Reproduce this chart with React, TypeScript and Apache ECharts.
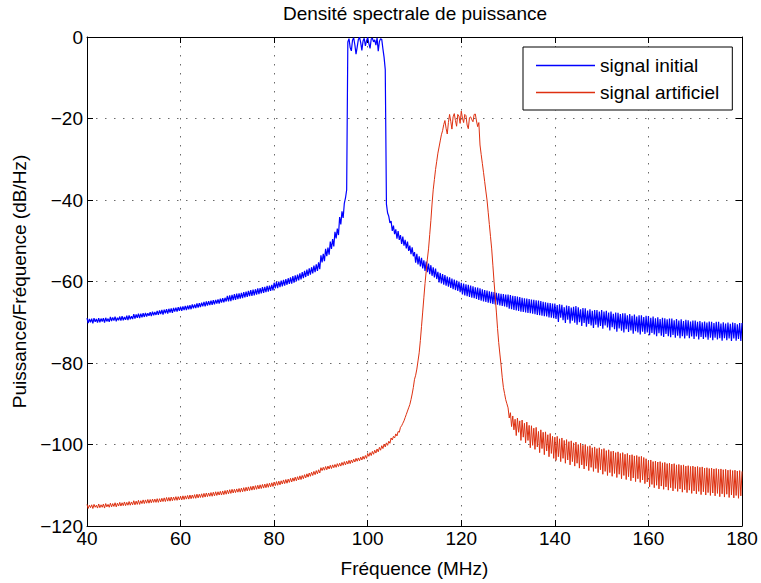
import React, { useEffect, useRef } from "react";
import * as echarts from "echarts";

// Frequency grid of the PSD estimate (MHz)
const FREQ_START = 40;
const FREQ_STEP = 0.25;

const X_TICKS = [40, 60, 80, 100, 120, 140, 160, 180];
const Y_TICKS = [-120, -100, -80, -60, -40, -20, 0];

const SERIES_NAMES = ["signal initial", "signal artificiel"];

// signal initial, dB/Hz, 40 .. 180 MHz, step 0.25 (one row = 5 MHz)
const signalInitial = [
  -69.0, -70.2, -69.2, -70.0, -69.1, -70.3, -69.0, -69.9, -69.2, -70.1, -69.0, -70.0, -69.1, -69.8, -69.0, -70.1, -68.9, -69.8, -69.1, -69.9,
  -68.7, -69.7, -68.8, -69.6, -68.6, -69.8, -68.9, -69.5, -68.6, -69.6, -68.5, -69.5, -68.7, -69.4, -68.4, -69.5, -68.3, -69.3, -68.5, -69.2,
  -68.0, -69.1, -68.1, -68.9, -67.9, -69.0, -67.9, -68.8, -67.8, -68.7, -67.7, -68.6, -67.8, -68.4, -67.5, -68.5, -67.4, -68.3, -67.5, -68.2,
  -67.2, -68.2, -67.1, -68.0, -67.0, -68.1, -66.9, -67.8, -66.8, -67.9, -66.7, -67.6, -66.6, -67.7, -66.5, -67.4, -66.4, -67.4, -66.3, -67.2,
  -66.2, -67.2, -66.1, -67.0, -66.0, -67.0, -65.9, -66.8, -65.8, -66.8, -65.6, -66.6, -65.6, -66.5, -65.4, -66.4, -65.3, -66.3, -65.2, -66.1,
  -65.0, -66.1, -64.9, -65.9, -64.8, -65.8, -64.7, -65.7, -64.6, -65.6, -64.5, -65.4, -64.4, -65.4, -64.2, -65.2, -64.1, -65.1, -64.0, -64.9,
  -63.5, -64.9, -63.4, -64.8, -63.3, -64.6, -63.1, -64.5, -63.0, -64.3, -62.9, -64.2, -62.8, -64.1, -62.6, -63.9, -62.5, -63.8, -62.3, -63.6,
  -62.1, -63.5, -62.0, -63.4, -61.9, -63.2, -61.7, -63.1, -61.6, -62.9, -61.4, -62.8, -61.3, -62.6, -61.1, -62.5, -61.0, -62.3, -60.8, -62.2,
  -60.3, -61.7, -60.1, -61.6, -60.0, -61.4, -59.8, -61.2, -59.6, -61.0, -59.4, -60.8, -59.2, -60.6, -59.0, -60.5, -58.7, -60.3, -58.5, -60.0,
  -58.3, -59.7, -58.0, -59.5, -57.7, -59.2, -57.4, -58.9, -57.1, -58.6, -56.8, -58.3, -56.5, -58.0, -56.1, -57.7, -55.8, -57.4, -55.3, -57.0,
  -53.6, -55.3, -53.2, -55.0, -52.0, -53.8, -51.7, -53.4, -50.2, -52.0, -49.6, -51.4, -47.8, -49.4, -47.0, -48.6, -44.2, -46.0, -42.8, -44.4,
  -40.8, -39.5, -37.5, -1.2, -0.4, -2.6, -3.4, -0.8, -0.2, -1.9, -4.2, -2.5, -0.6, -0.1, -1.4, -3.3, -1.0, -0.3, -2.2, -0.9,
  -0.1, -1.6, -2.8, -0.5, -0.3, -1.2, -0.7, -2.0, -0.2, -3.5, -1.1, -0.4, -0.6, -2.9, -5.0, -8.0, -41.0, -43.2, -44.0, -45.6,
  -45.2, -47.6, -46.3, -48.4, -47.2, -49.5, -47.6, -49.8, -48.6, -50.8, -49.0, -51.2, -49.8, -51.9, -50.2, -52.5, -51.2, -53.3, -51.6, -53.8,
  -52.8, -55.4, -53.2, -55.8, -53.8, -56.3, -54.2, -56.8, -54.8, -57.4, -55.1, -57.7, -55.6, -58.2, -56.0, -58.6, -56.5, -59.0, -56.8, -59.4,
  -57.6, -60.2, -57.9, -60.5, -58.2, -60.8, -58.4, -61.0, -58.8, -61.3, -59.0, -61.6, -59.3, -61.9, -59.5, -62.1, -59.8, -62.3, -60.0, -62.6,
  -60.3, -63.2, -60.5, -63.4, -60.7, -63.6, -60.8, -63.8, -61.0, -64.0, -61.2, -64.1, -61.4, -64.3, -61.5, -64.5, -61.7, -64.7, -61.9, -64.9,
  -62.1, -65.0, -62.2, -65.2, -62.4, -65.3, -62.5, -65.5, -62.6, -65.6, -62.8, -65.7, -62.9, -65.9, -63.0, -66.0, -63.1, -66.1, -63.2, -66.3,
  -63.2, -66.7, -63.3, -66.8, -63.5, -67.0, -63.6, -67.1, -63.7, -67.2, -63.8, -67.4, -64.0, -67.5, -64.1, -67.6, -64.2, -67.7, -64.3, -67.8,
  -64.4, -67.9, -64.5, -68.0, -64.6, -68.2, -64.7, -68.3, -64.8, -68.4, -65.0, -68.5, -65.1, -68.6, -65.2, -68.8, -65.3, -68.9, -65.4, -69.0,
  -65.4, -69.2, -65.8, -69.9, -65.6, -68.9, -65.7, -69.5, -66.3, -70.2, -65.9, -69.4, -66.0, -70.3, -66.4, -69.6, -66.2, -70.1, -66.0, -70.6,
  -66.3, -70.0, -66.8, -70.9, -66.5, -70.2, -66.6, -71.1, -67.1, -70.4, -66.8, -70.8, -67.2, -71.4, -67.0, -70.6, -67.0, -71.3, -67.4, -70.9,
  -67.0, -71.6, -67.4, -70.8, -67.2, -71.3, -67.6, -72.0, -67.4, -71.2, -67.9, -71.7, -67.6, -72.3, -67.7, -71.5, -68.0, -72.1, -67.8, -72.5,
  -67.8, -71.7, -68.3, -72.4, -68.0, -72.0, -68.4, -72.8, -68.1, -72.2, -68.6, -72.5, -68.3, -73.0, -68.3, -72.3, -68.7, -72.9, -68.4, -72.5,
  -68.5, -73.2, -68.9, -72.6, -68.6, -73.0, -69.0, -73.4, -68.8, -72.7, -69.2, -73.3, -68.9, -73.6, -69.0, -72.9, -69.3, -73.4, -69.1, -73.7,
  -69.1, -73.1, -69.5, -73.8, -69.2, -73.3, -69.6, -73.9, -69.3, -73.4, -69.7, -74.0, -69.4, -73.3, -69.5, -73.9, -69.8, -73.5, -69.6, -74.1,
  -69.6, -73.5, -69.9, -74.2, -69.7, -73.6, -70.0, -74.1, -69.8, -73.7, -70.1, -74.3, -69.8, -73.8, -69.9, -74.4, -70.2, -73.8, -69.9, -74.2,
  -69.9, -73.9, -70.3, -74.5, -70.0, -73.9, -70.3, -74.4, -70.1, -74.0, -70.4, -74.6, -70.1, -74.0, -70.2, -74.5, -70.5, -74.1, -70.2, -74.6,
  -70.2,
];

// signal artificiel, dB/Hz, 40 .. 180 MHz, step 0.25 (one row = 5 MHz)
const signalArtificiel = [
  -114.7, -115.7, -114.9, -115.5, -114.8, -115.7, -114.7, -115.4, -114.9, -115.6, -114.6, -115.5, -114.8, -115.4, -114.6, -115.6, -114.5, -115.3, -114.7, -115.4,
  -114.4, -115.3, -114.5, -115.2, -114.3, -115.3, -114.4, -115.1, -114.2, -115.1, -114.3, -115.0, -114.1, -115.0, -114.2, -114.9, -114.0, -114.9, -114.1, -114.8,
  -113.8, -114.8, -113.9, -114.7, -113.7, -114.7, -113.8, -114.5, -113.6, -114.5, -113.6, -114.4, -113.5, -114.4, -113.5, -114.3, -113.4, -114.2, -113.4, -114.2,
  -113.3, -114.2, -113.3, -114.1, -113.2, -114.0, -113.1, -114.0, -113.0, -113.9, -113.0, -113.9, -112.9, -113.8, -112.9, -113.7, -112.8, -113.7, -112.8, -113.6,
  -112.7, -113.6, -112.6, -113.5, -112.6, -113.4, -112.5, -113.4, -112.4, -113.3, -112.4, -113.2, -112.3, -113.2, -112.2, -113.1, -112.2, -113.0, -112.1, -113.0,
  -112.0, -112.9, -111.9, -112.8, -111.9, -112.7, -111.8, -112.7, -111.7, -112.6, -111.6, -112.5, -111.6, -112.4, -111.5, -112.4, -111.4, -112.3, -111.3, -112.2,
  -111.2, -112.1, -111.1, -112.0, -111.0, -111.9, -111.0, -111.8, -110.9, -111.7, -110.8, -111.7, -110.7, -111.6, -110.6, -111.5, -110.5, -111.4, -110.4, -111.3,
  -110.3, -111.2, -110.2, -111.1, -110.1, -111.0, -110.0, -110.9, -109.9, -110.8, -109.8, -110.7, -109.7, -110.6, -109.6, -110.5, -109.5, -110.4, -109.4, -110.3,
  -109.2, -110.1, -109.1, -110.0, -109.0, -109.9, -108.9, -109.7, -108.7, -109.6, -108.6, -109.5, -108.5, -109.3, -108.3, -109.2, -108.2, -109.0, -108.0, -108.9,
  -107.9, -108.7, -107.7, -108.6, -107.6, -108.4, -107.4, -108.2, -107.2, -108.0, -107.0, -107.8, -106.8, -107.6, -106.6, -107.4, -106.4, -107.2, -106.2, -107.0,
  -105.7, -106.4, -105.6, -106.3, -105.4, -106.2, -105.3, -106.0, -105.1, -105.9, -105.0, -105.7, -104.9, -105.6, -104.7, -105.4, -104.6, -105.3, -104.4, -105.1,
  -104.2, -105.0, -104.1, -104.8, -103.9, -104.7, -103.8, -104.5, -103.6, -104.3, -103.4, -104.1, -103.3, -104.0, -103.1, -103.8, -102.9, -103.6, -102.7, -103.4,
  -102.2, -102.9, -102.0, -102.7, -101.7, -102.4, -101.4, -102.1, -101.1, -101.8, -100.7, -101.4, -100.3, -101.0, -99.9, -100.6, -99.6, -100.2, -99.2, -99.7,
  -98.4, -98.9, -98.0, -98.4, -97.4, -97.9, -96.8, -97.0, -95.8, -95.4, -94.8, -94.2, -93.4, -92.6, -91.8, -91.0, -90.2, -89.0, -87.6, -86.0,
  -84.0, -83.0, -81.5, -79.5, -77.5, -74.5, -71.0, -67.5, -64.0, -60.5, -57.5, -54.5, -52.0, -48.5, -45.0, -41.0, -37.5, -35.0, -32.5, -30.5,
  -28.5, -27.0, -25.5, -24.0, -23.0, -21.5, -20.5, -22.4, -23.8, -21.0, -19.0, -20.7, -22.6, -19.6, -18.8, -20.5, -21.9, -19.0, -19.4, -21.2,
  -18.2, -19.9, -21.0, -19.0, -19.3, -21.6, -22.5, -19.8, -19.6, -20.3, -20.8, -19.0, -18.9, -20.6, -22.0, -21.0, -26.5, -28.8, -31.0, -33.2,
  -35.5, -37.8, -40.0, -43.0, -46.0, -49.0, -52.0, -56.0, -60.0, -63.8, -67.5, -71.5, -75.0, -77.8, -80.5, -83.5, -86.0, -87.5, -89.0, -90.0,
  -91.0, -93.5, -92.2, -95.6, -93.0, -96.4, -93.8, -97.8, -93.5, -97.0, -94.2, -99.0, -94.0, -98.2, -94.8, -99.6, -94.5, -99.0, -95.3, -100.8,
  -95.4, -100.2, -96.0, -101.2, -95.8, -100.6, -96.8, -102.0, -96.4, -101.0, -97.0, -102.5, -96.9, -101.6, -97.6, -103.0, -97.3, -102.2, -98.0, -103.4,
  -98.2, -103.9, -98.0, -103.0, -98.6, -104.2, -98.4, -103.4, -99.0, -104.6, -98.8, -103.8, -99.3, -105.0, -99.1, -104.2, -99.6, -105.3, -99.4, -104.6,
  -100.0, -105.8, -99.7, -105.0, -100.2, -106.0, -100.0, -105.3, -100.5, -106.4, -100.3, -105.6, -100.8, -106.6, -100.6, -105.9, -101.0, -106.9, -100.8, -106.2,
  -101.2, -107.3, -101.0, -106.6, -101.5, -107.6, -101.3, -106.9, -101.7, -107.8, -101.6, -107.1, -102.0, -108.1, -101.8, -107.3, -102.2, -108.4, -102.0, -107.6,
  -102.4, -108.6, -102.2, -107.9, -102.6, -108.9, -102.5, -108.2, -102.8, -109.1, -102.7, -108.4, -103.0, -109.3, -102.9, -108.7, -103.2, -109.6, -103.5, -109.2,
  -104.0, -110.4, -103.8, -109.8, -104.2, -110.6, -104.1, -110.0, -104.3, -110.9, -104.2, -110.2, -104.5, -111.0, -104.4, -110.4, -104.7, -111.2, -104.6, -110.6,
  -104.8, -111.4, -104.7, -110.8, -105.0, -111.5, -104.9, -110.9, -105.1, -111.7, -105.0, -111.1, -105.3, -111.8, -105.2, -111.2, -105.4, -112.0, -105.3, -111.4,
  -105.5, -112.1, -105.4, -111.5, -105.6, -112.3, -105.5, -111.6, -105.8, -112.4, -105.7, -111.8, -105.9, -112.5, -105.8, -111.9, -106.0, -112.6, -105.9, -112.0,
  -106.1, -112.8, -106.0, -112.1, -106.2, -112.9, -106.1, -112.2, -106.3, -113.0, -106.2, -112.4, -106.4, -113.1, -106.3, -112.5, -106.5, -113.2, -106.4, -112.6,
  -106.6,
];

const FONT = "'Liberation Sans', Arial, Helvetica, sans-serif";

function pairs(values: number[]) {
  return values.map((v, i) => [FREQ_START + i * FREQ_STEP, v]);
}

const fmt = (v: number) => String(v).replace("-", "\u2212");

export default function App() {
  const ref = useRef<HTMLDivElement>(null);
  useEffect(() => {
    document.body.style.margin = "0";
    if (!ref.current) return;
    const chart = echarts.init(ref.current, undefined, { renderer: "svg" });
    const xMin = X_TICKS[0];
    const xMax = X_TICKS[X_TICKS.length - 1];
    const yMin = Y_TICKS[0];
    const yMax = Y_TICKS[Y_TICKS.length - 1];
    const gridLine = { show: true, lineStyle: { color: "#6a6a6a", width: 1, type: [1.5, 7.5] } };
    const axisLine = { show: true, onZero: false, lineStyle: { color: "#000", width: 1 } };
    const tick = { show: true, inside: true, length: 6, lineStyle: { color: "#000" } };
    chart.setOption({
      animation: false,
      backgroundColor: "#fff",
      textStyle: { fontFamily: FONT },
      title: {
        text: "Densité spectrale de puissance",
        left: 415,
        top: 4,
        padding: 0,
        textAlign: "center",
        textStyle: { fontSize: 19, fontWeight: "normal", color: "#000", fontFamily: FONT },
      },
      legend: {
        data: SERIES_NAMES,
        orient: "vertical",
        left: 523,
        top: 47,
        padding: [9, 13, 8, 13],
        itemGap: 8,
        icon: "rect",
        itemWidth: 59,
        itemHeight: 1.4,
        borderColor: "#000",
        borderWidth: 1,
        borderRadius: 0,
        backgroundColor: "#fff",
        textStyle: { fontSize: 19, lineHeight: 19, color: "#000", fontFamily: FONT },
      },
      grid: { left: 87, right: 19, top: 37, bottom: 56, containLabel: false },
      xAxis: [
        {
          type: "value",
          min: xMin,
          max: xMax,
          interval: 20,
          position: "bottom",
          axisLine,
          axisTick: tick,
          splitLine: gridLine,
          axisLabel: { fontSize: 19, color: "#000", margin: 3, fontFamily: FONT },
          name: "Fréquence (MHz)",
          nameLocation: "middle",
          nameGap: 33,
          nameTextStyle: { fontSize: 19, color: "#000", fontFamily: FONT },
        },
        {
          type: "value",
          min: xMin,
          max: xMax,
          interval: 20,
          position: "top",
          axisLine,
          axisTick: tick,
          splitLine: { show: false },
          axisLabel: { show: false },
        },
      ],
      yAxis: [
        {
          type: "value",
          min: yMin,
          max: yMax,
          interval: 20,
          position: "left",
          axisLine,
          axisTick: tick,
          splitLine: gridLine,
          axisLabel: { fontSize: 19, color: "#000", margin: 4, formatter: fmt, fontFamily: FONT },
          name: "Puissance/Fréquence (dB/Hz)",
          nameLocation: "middle",
          nameGap: 57,
          nameTextStyle: { fontSize: 19, color: "#000", fontFamily: FONT },
        },
        {
          type: "value",
          min: yMin,
          max: yMax,
          interval: 20,
          position: "right",
          axisLine,
          axisTick: tick,
          splitLine: { show: false },
          axisLabel: { show: false },
        },
      ],
      series: [
        {
          name: SERIES_NAMES[0],
          type: "line",
          xAxisIndex: 0,
          yAxisIndex: 0,
          data: pairs(signalInitial),
          symbol: "none",
          color: "#0000ff",
          lineStyle: { color: "#0000ff", width: 1.2 },
        },
        {
          name: SERIES_NAMES[1],
          type: "line",
          xAxisIndex: 0,
          yAxisIndex: 0,
          data: pairs(signalArtificiel),
          symbol: "none",
          color: "#de3010",
          lineStyle: { color: "#de3010", width: 1 },
        },
      ],
    });
    return () => chart.dispose();
  }, []);
  return <div ref={ref} style={{ width: 761, height: 583 }} />;
}
